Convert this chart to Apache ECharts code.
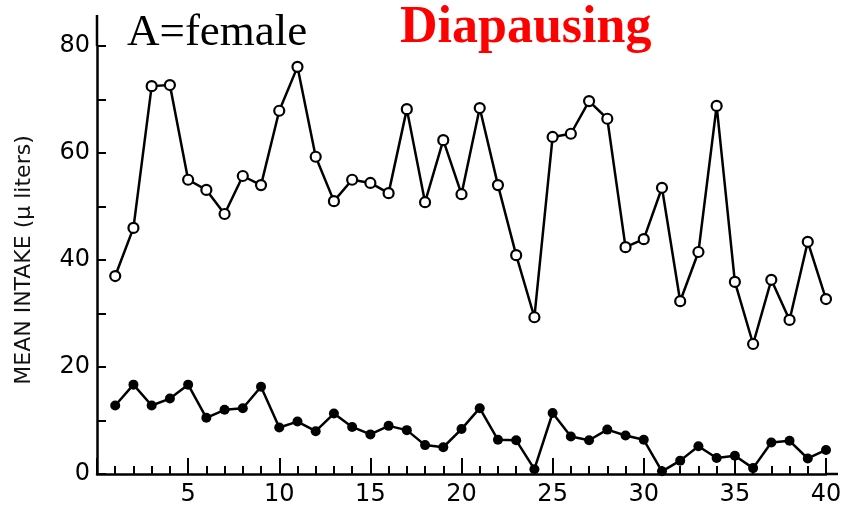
<!DOCTYPE html>
<html>
<head>
<meta charset="utf-8">
<script src="https://cdn.jsdelivr.net/npm/echarts@6/dist/echarts.min.js"></script>
<style>
html, body { margin: 0; padding: 0; background: #fff; }
#main { width: 846px; height: 507px; }
</style>
</head>
<body>
<div id="main"></div>
<script>
// day number, 1..40
var days = [1, 2, 3, 4, 5, 6, 7, 8, 9, 10, 11, 12, 13, 14, 15, 16, 17, 18, 19, 20,
            21, 22, 23, 24, 25, 26, 27, 28, 29, 30, 31, 32, 33, 34, 35, 36, 37, 38, 39, 40];
// open circles
var upperIntake = [37.0, 46.0, 72.5, 72.7, 55.0, 53.1, 48.6, 55.7, 54.0, 67.9,
                   76.1, 59.3, 51.0, 55.0, 54.4, 52.5, 68.2, 50.8, 62.4, 52.3,
                   68.4, 54.0, 40.9, 29.3, 63.0, 63.6, 69.7, 66.4, 42.4, 43.9,
                   53.5, 32.3, 41.5, 68.8, 35.9, 24.3, 36.3, 28.8, 43.4, 32.7];
// filled circles
var lowerIntake = [12.8, 16.7, 12.8, 14.1, 16.7, 10.5, 12.0, 12.3, 16.3, 8.7,
                   9.8, 8.0, 11.3, 8.8, 7.4, 9.0, 8.2, 5.4, 5.0, 8.4,
                   12.3, 6.4, 6.3, 0.9, 11.4, 7.0, 6.3, 8.3, 7.2, 6.4,
                   0.5, 2.5, 5.2, 3.0, 3.4, 1.1, 5.9, 6.2, 2.9, 4.5];
var xLabelStep = 5;   // labels 5, 10 ... 40
var yLabelStep = 20;  // labels 0, 20 ... 80

var myChart = echarts.init(document.getElementById('main'));

function pairs(ys) {
    return days.map(function (d, i) { return [d, ys[i]]; });
}

var axisFont = {
    fontFamily: 'DejaVu Sans',
    fontSize: 24,
    color: '#000'
};

var option = {
    animation: false,
    backgroundColor: '#fff',
    title: [
        {
            text: 'A=female',
            left: 127, top: 11, padding: 0,
            textStyle: { fontFamily: 'Liberation Serif', fontSize: 45, fontWeight: 'normal', color: '#000' }
        },
        {
            text: 'Diapausing',
            left: 400, top: 3, padding: 0,
            textStyle: { fontFamily: 'Liberation Serif', fontSize: 52, fontWeight: 'bold', color: '#ff0000' }
        }
    ],
    grid: { left: 97, right: 20, top: 46, bottom: 32 },
    xAxis: {
        type: 'value',
        min: 0,
        max: 40,
        interval: xLabelStep,
        axisLine: {
            lineStyle: { color: '#000', width: 2.5 },
            symbol: ['none', 'rect'],
            symbolSize: [2.5, 12],
            symbolOffset: [0, 6]
        },
        axisTick: { inside: true, length: 16, lineStyle: { color: '#000', width: 2 } },
        minorTick: { show: true, splitNumber: 5, length: 8, lineStyle: { color: '#000', width: 2 } },
        splitLine: { show: false },
        axisLabel: Object.assign({ margin: 9, showMinLabel: false }, axisFont)
    },
    yAxis: {
        type: 'value',
        min: 0,
        max: 80,
        interval: yLabelStep,
        name: 'MEAN INTAKE (\u03bc liters)',
        nameLocation: 'middle',
        nameGap: 62,
        nameTextStyle: { fontFamily: 'DejaVu Sans', fontSize: 22, color: '#111' },
        axisLine: {
            show: true,
            lineStyle: { color: '#000', width: 2.5 },
            symbol: ['none', 'rect'],
            symbolSize: [2.5, 31],
            symbolOffset: [0, 15.5]
        },
        axisTick: { show: true, inside: true, length: 9, lineStyle: { color: '#000', width: 2 } },
        minorTick: { show: true, splitNumber: 2, length: 9, lineStyle: { color: '#000', width: 2 } },
        splitLine: { show: false },
        axisLabel: Object.assign({ margin: 7 }, axisFont)
    },
    series: [
        {
            type: 'line',
            data: pairs(upperIntake),
            symbol: 'circle',
            symbolSize: 10,
            lineStyle: { color: '#000', width: 2.5 },
            itemStyle: { color: '#fff', borderColor: '#000', borderWidth: 2.2 },
            z: 3
        },
        {
            type: 'line',
            data: pairs(lowerIntake),
            symbol: 'circle',
            symbolSize: 10,
            lineStyle: { color: '#000', width: 2.5 },
            itemStyle: { color: '#000', borderColor: '#000', borderWidth: 0 },
            z: 3
        }
    ]
};

myChart.setOption(option);
</script>
</body>
</html>
